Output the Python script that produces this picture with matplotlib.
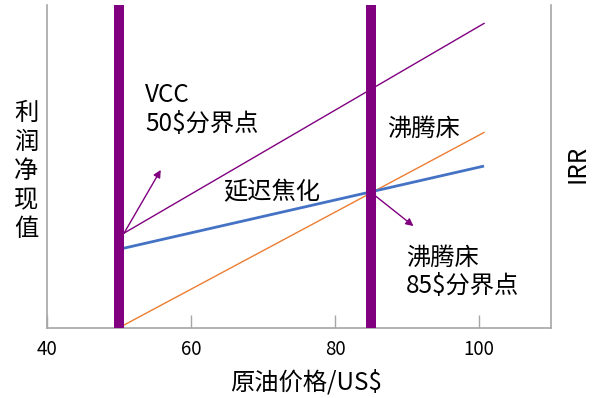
import matplotlib
matplotlib.use("Agg")
import matplotlib.pyplot as plt

plt.rcParams['font.family'] = ['Noto Sans CJK SC', 'DejaVu Sans']

# Oil price range covered by the three process lines (US$/bbl)
price_range = [50, 100.7]
# Relative NPV at the two ends of the price range
vcc_npv = [28.4, 94.3]
coking_npv = [24.3, 50.1]
ebullated_npv = [0.0, 60.5]
# Break-even oil prices
breakpoints = [50, 85]
x_ticks = [40, 60, 80, 100]
x_tick_labels = ['40', '60', '80', '100']

PURPLE = '#800080'
BLUE = '#4472C4'
ORANGE = '#ED7D31'
GRAY = '#A6A6A6'

fig = plt.figure(figsize=(5.95, 3.98), dpi=100)
ax = fig.add_axes([0.079, 0.1766, 0.847, 0.8108])
ax.set_xlim(40, 110)
ax.set_ylim(0, 100)

for bp in breakpoints:
    ax.axvline(bp, color=PURPLE, lw=7.2, zorder=3)

ax.plot(price_range, vcc_npv, color=PURPLE, lw=1.0, zorder=2)
ax.plot(price_range, ebullated_npv, color=ORANGE, lw=1.0, zorder=2)
ax.plot(price_range, coking_npv, color=BLUE, lw=2.0, zorder=2,
        solid_capstyle='butt')

arrow = dict(arrowstyle='-|>', color=PURPLE, lw=1.0, mutation_scale=11,
             shrinkA=0, shrinkB=0)
ax.annotate('', xy=(55.8, 48.9), xytext=(50.7, 29.3), arrowprops=arrow, zorder=4)
ax.annotate('', xy=(90.9, 31.5), xytext=(85.3, 41.4), arrowprops=arrow, zorder=4)

fs = 17.5
ax.text(53.6, 67.6, 'VCC\n50\\$分界点', fontsize=fs, ha='left', va='center',
        linespacing=1.15)
ax.text(71.2, 42.0, '延迟焦化', fontsize=fs, ha='center', va='center')
ax.text(92.3, 61.5, '沸腾床', fontsize=fs, ha='center', va='center')
ax.text(89.9, 17.3, '沸腾床\n85\\$分界点', fontsize=fs, ha='left', va='center',
        linespacing=1.15)

for side in ('left', 'bottom', 'right'):
    ax.spines[side].set_color(GRAY)
    ax.spines[side].set_linewidth(1.2)
ax.spines['top'].set_visible(False)

ax.set_yticks([])
ax.set_xticks(x_ticks)
ax.set_xticklabels(x_tick_labels, fontsize=13.5)
ax.tick_params(axis='x', direction='in', length=9.5, width=1.0, color=GRAY,
               pad=8)

fig.text(0.044, 0.570, '\n'.join('利润净现值'), fontsize=fs, ha='center',
         va='center', linespacing=1.15)
fig.text(0.970, 0.588, 'IRR', fontsize=fs, rotation=90, ha='center',
         va='center')
fig.text(0.514, 0.040, '原油价格/US\\$', fontsize=fs, ha='center', va='center')

fig.savefig('out.png', dpi=100)
